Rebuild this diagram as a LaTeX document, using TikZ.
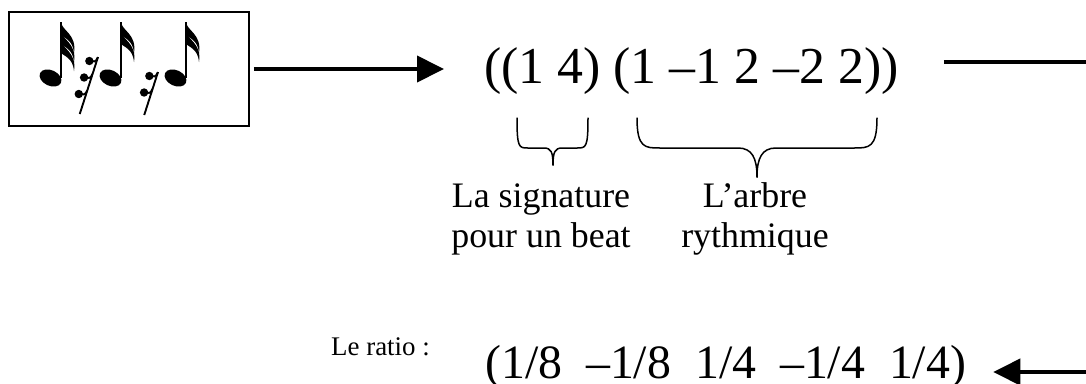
\documentclass[tikz,border=0pt]{standalone}
\usepackage{fontspec}
\setmainfont{Liberation Serif}
\usetikzlibrary{arrows.meta}
\tikzset{
  big/.style={font=\fontsize{52}{56}\selectfont, inner sep=0pt},
  bigb/.style={font=\fontsize{48}{52}\selectfont, inner sep=0pt},
  lab/.style={font=\fontsize{36}{40}\selectfont, inner sep=0pt},
  small/.style={font=\fontsize{27}{31}\selectfont, inner sep=0pt},
  thickline/.style={line width=4bp},
  arr/.style={thickline, -{Triangle[length=27bp,width=26bp]}},
  brace/.style={line width=1.5bp, line join=round, line cap=round},
  pics/note/.style={code={
    \fill[rotate around={-25:(-10.5,56)}] (-10.5,56) ellipse [x radius=11.5, y radius=7.8];
    \draw[line width=2bp] (0,0) -- (0,56);
    \foreach \k in {1,...,#1}{
      \fill[shift={(0,{(\k-1)*9})}] (-1,0) -- (0,0) .. controls (1,9) and (16,12) .. (13,31)
        .. controls (12,18) and (3,16) .. (0,13) -- (-1,13) -- cycle;
    }
  }},
  pics/rest/.style={code={
    \draw[line width=1.9bp] (0,0) -- ({-0.32*(15+14*#1)},{15+14*#1});
    \foreach \k [evaluate=\k as \yy using 2+16.5*(\k-1),
                 evaluate=\k as \xx using -0.32*(2+16.5*(\k-1))] in {1,...,#1}{
      \fill (\xx-8,\yy+2) circle [radius=4.2];
      \draw[line width=1.8bp] (\xx-8.5,\yy-1) .. controls (\xx-4,\yy+4.5) and (\xx-1.5,\yy+3) .. (\xx+0.3,\yy-1.5);
    }
  }},
}
\begin{document}
\begin{tikzpicture}[x=1bp,y=-1bp]
\useasboundingbox (0,0) rectangle (1086,383);
% score box
\node[draw, line width=1.6bp, minimum width=240bp, minimum height=114bp, inner sep=0pt] (box) at (129,69) {};
\pic at (61,22) {note=3};
\pic at (98,57) {rest=3};
\pic at (121,22) {note=2};
\pic at (158,72) {rest=2};
\pic at (186,22) {note=2};
% top expression
\node[big, anchor=base west] (seq) at (484,83) {((1 4) (1 \textendash1 2 \textendash2 2))};
\draw[arr, shorten <=4bp, shorten >=40bp] (box.east) -- (box.east -| seq.west);
\coordinate (r1) at (1086,62);
\draw[thickline, shorten <=45bp] (seq.east |- r1) -- (r1);
% braces
\draw[brace] (517,118) .. controls (517,148) and (519,148) .. (528,148) -- (544,148)
  .. controls (551,148) and (553,152) .. (553,165);
\draw[brace] (588,118) .. controls (588,148) and (586,148) .. (577,148) -- (562,148)
  .. controls (555,148) and (553,152) .. (553,165);
\draw[brace] (637,118) .. controls (637,148) and (645,148) .. (660,148) -- (738,148)
  .. controls (752,148) and (757,158) .. (757,177);
\draw[brace] (877,118) .. controls (877,148) and (869,148) .. (854,148) -- (776,148)
  .. controls (762,148) and (757,158) .. (757,177);
% labels
\node[lab, anchor=base] (sig1) at (541,207) {La signature};
\node[lab, anchor=base] (sig2) at (541,247) {pour un beat};
\node[lab, anchor=base] (arb1) at (755,207) {L’arbre};
\node[lab, anchor=base] (arb2) at (755,247) {rythmique};
% ratio
\node[small, anchor=base east] (ratio) at (430,355) {Le ratio :};
\node[bigb, anchor=base west] (rseq) at (485,378) {(1/8\ \ \textendash1/8\ \ 1/4\ \ \textendash1/4\ \ 1/4)};
\coordinate (b1) at (1086,372);
\draw[arr, shorten >=27bp] (b1) -- (b1 -| rseq.east);
\end{tikzpicture}
\end{document}
